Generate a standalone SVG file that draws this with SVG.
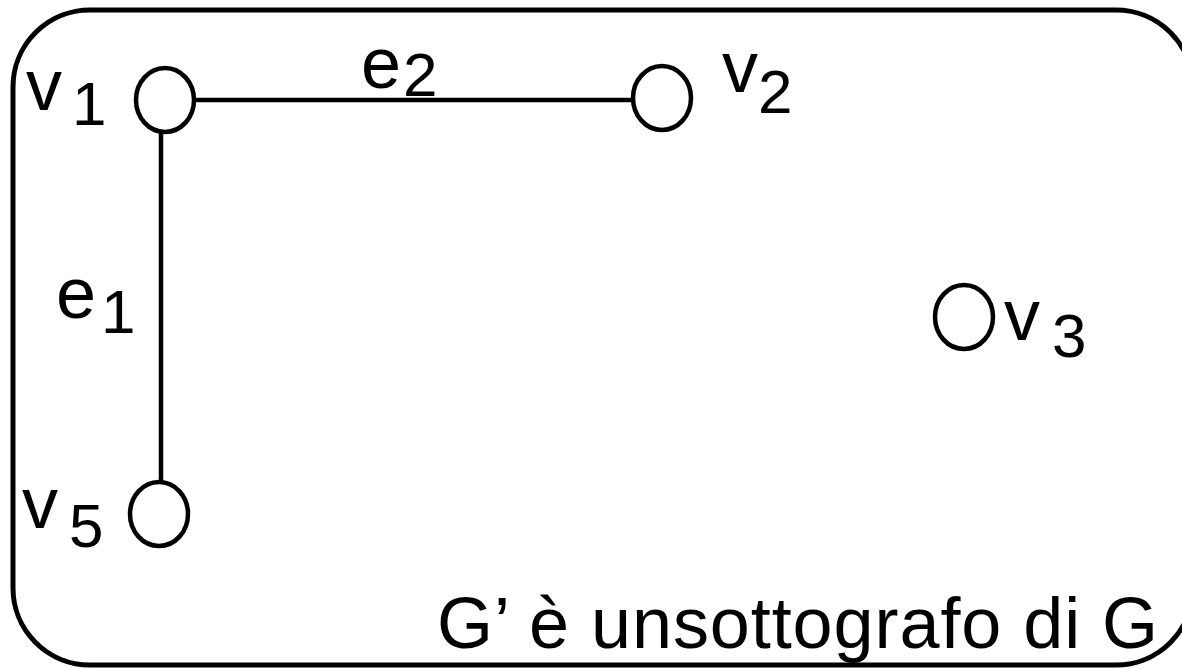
<svg xmlns="http://www.w3.org/2000/svg" width="1182" height="669" viewBox="0 0 1182 669">
<style>
.frame{fill:none;stroke:#000;stroke-width:5}
.node{fill:#fff;stroke:#000;stroke-width:4.5}
.edge{stroke:#000;stroke-width:4.5;fill:none}
.lbl{font-family:"Liberation Sans",Arial,sans-serif;font-size:72px;fill:#000}
.sub{font-family:"Liberation Sans",Arial,sans-serif;font-size:62px;fill:#000}
.cap{font-family:"Liberation Sans",Arial,sans-serif;font-size:72px;fill:#000}
</style>
<rect class="frame" x="13" y="10" width="1180" height="655" rx="77" ry="77"/>
<g id="connectors">
<line class="edge" x1="192" y1="100" x2="634" y2="100"/>
<line class="edge" x1="161" y1="130" x2="161" y2="484"/>
<text class="lbl" x="361" y="88">e</text><text class="sub" x="403" y="96">2</text>
<text class="lbl" x="56" y="318">e</text><text class="sub" x="101" y="333">1</text>
</g>
<g id="v1">
<ellipse class="node" cx="165" cy="100" rx="29" ry="32"/>
<text class="lbl" x="26" y="110">v</text><text class="sub" x="72" y="125">1</text>
</g>
<g id="v2">
<ellipse class="node" cx="662" cy="98" rx="29" ry="32"/>
<text class="lbl" x="722" y="92">v</text><text class="sub" x="758" y="113">2</text>
</g>
<g id="v3">
<ellipse class="node" cx="964" cy="317" rx="29" ry="32"/>
<text class="lbl" x="1004" y="340">v</text><text class="sub" x="1052" y="357">3</text>
</g>
<g id="v5">
<ellipse class="node" cx="159" cy="514" rx="29" ry="32"/>
<text class="lbl" x="22" y="528">v</text><text class="sub" x="69" y="547">5</text>
</g>
<g id="caption">
<text class="cap" x="437" y="648" textLength="721" lengthAdjust="spacing">G’ è unsottografo di G</text>
</g>
</svg>
